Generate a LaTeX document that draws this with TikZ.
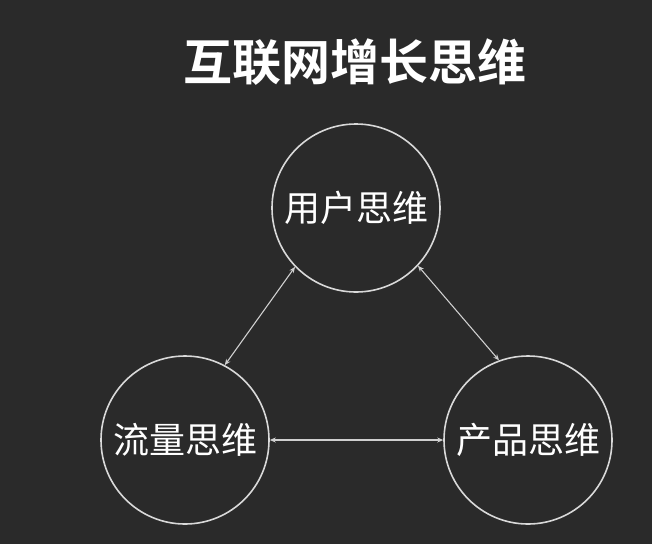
\documentclass[tikz,border=0pt]{standalone}
\usepackage{fontspec}
\usepackage{xcolor}
\usepackage{tikz}
\usetikzlibrary{arrows.meta}
\setmainfont{Noto Sans CJK SC}[BoldFont={Noto Sans CJK SC Bold}]
\definecolor{board}{HTML}{2A2A2A}
\definecolor{ring}{HTML}{D9D9D9}
\definecolor{link}{HTML}{CFCFCF}

\begin{document}
\begin{tikzpicture}[x=1pt,y=-1pt]
\tikzstyle{think}=[draw=ring,line width=1.6pt,circle,minimum size=168pt,inner sep=0pt,text=white,font=\fontsize{36}{40}\selectfont]
\tikzstyle{twoway}=[link,line width=1.1pt,{Stealth[length=6pt,width=5pt]}-{Stealth[length=6pt,width=5pt]}]
\fill [board] (0,0) rectangle (652,544);
\useasboundingbox (0,0) rectangle (652,544);
\node (title) at (355,62) [text=white,font=\fontsize{49}{54}\selectfont\bfseries] {互联网增长思维};
\node [think] (user) at (356,208) {用户思维};
\node [think] (flow) at (185,440) {流量思维};
\node [think] (prod) at (528,440) {产品思维};
\draw [twoway] (user.-136) -- (flow.62);
\draw [twoway] (user.-43) -- (prod.110);
\draw [twoway] (flow.east) -- (prod.west);
\end{tikzpicture}
\end{document}
